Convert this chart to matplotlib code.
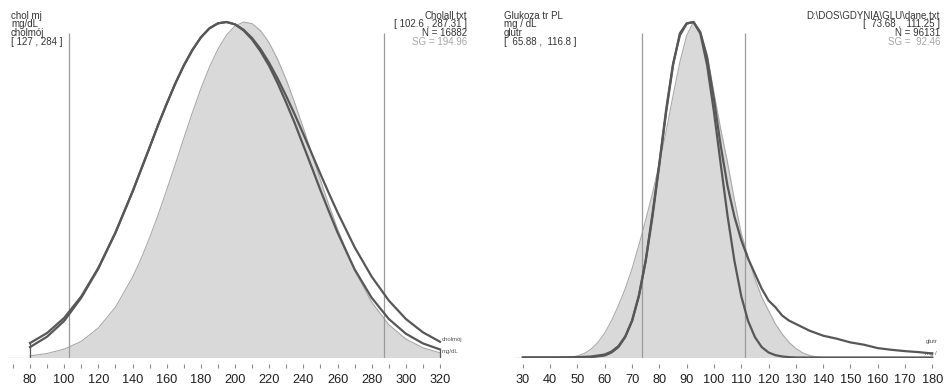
import matplotlib
matplotlib.use("Agg")
import matplotlib.pyplot as plt
from matplotlib.ticker import MultipleLocator

# ---------------- data (peak height = 100) ----------------
chol_x = [80, 90, 100, 110, 120, 130, 140, 145, 150, 155, 160, 165, 170, 175, 180, 185,
          190, 195, 200, 205, 210, 215, 220, 225, 230, 235, 240, 245, 250, 255, 260,
          270, 280, 290, 300, 310, 320]
chol_ref = [0.5, 1.2, 2.5, 4.8, 8.8, 15.0, 23.9, 29.4, 35.7, 42.5, 49.9, 57.5, 65.3, 72.9,
            80.1, 86.5, 91.9, 96.1, 98.8, 100.0, 99.5, 97.4, 93.8, 88.8, 82.8, 75.8, 68.4,
            60.7, 52.9, 45.4, 38.3, 26.0, 16.5, 9.8, 5.5, 2.9, 1.4]
chol_cholmoj = [4.3, 7.3, 11.8, 18.2, 26.7, 37.2, 49.4, 56.0, 62.6, 69.3, 75.6, 81.6, 87.0,
                91.6, 95.4, 98.1, 99.6, 100.0, 99.3, 97.7, 95.2, 91.9, 87.8, 83.1, 77.9,
                72.4, 66.6, 60.7, 54.7, 48.9, 43.3, 32.9, 24.1, 17.0, 11.5, 7.5, 4.7]
chol_mgdl = [3.1, 6.2, 10.9, 17.8, 26.5, 37.2, 49.4, 56.0, 62.6, 69.3, 75.6, 81.6, 87.0,
             91.6, 95.4, 98.1, 99.6, 100.0, 99.3, 97.5, 94.8, 91.2, 86.9, 81.7, 75.9,
             69.8, 63.2, 56.6, 49.9, 43.5, 37.3, 26.3, 17.8, 11.5, 7.1, 4.2, 2.4]
chol_ticks = [80, 100, 120, 140, 160, 180, 200, 220, 240, 260, 280, 300, 320]
chol_limits = [102.6, 287.31]

glu_ref_x = [47.5, 50, 52.5, 55, 57.5, 60, 62.5, 65, 67.5, 70, 72.5, 75, 77.5, 80, 82.5,
             85, 87.5, 90, 92.5, 95, 97.5, 100, 102.5, 105, 107.5, 110, 112.5, 115, 117.5,
             120, 122.5, 125, 127.5, 130, 132.5, 135, 137.5, 140]
glu_ref = [0.0, 0.5, 1.2, 2.5, 4.5, 7.3, 11.0, 15.5, 20.5, 26.5, 33.5, 41.0, 49.0, 58.0,
           67.5, 78.0, 88.0, 96.0, 100.0, 97.0, 90.0, 79.0, 68.0, 58.0, 47.0, 37.0, 30.0,
           23.5, 18.0, 14.0, 10.0, 7.0, 4.5, 2.7, 1.4, 0.6, 0.2, 0.0]

glu_x = [30, 40, 50, 55, 60, 62.5, 65, 67.5, 70, 72.5, 75, 77.5, 80, 82.5, 85, 87.5, 90,
         92.5, 95, 97.5, 100, 102.5, 105, 107.5, 110, 112.5, 115, 117.5, 120, 122.5, 125,
         127.5, 130, 135, 140, 145, 150, 155, 160, 165, 170, 175, 180]
glu_glutr = [0.0, 0.0, 0.1, 0.3, 0.9, 1.8, 3.4, 6.3, 11.0, 18.5, 29.0, 43.0, 58.0, 74.0, 87.5,
             96.0, 99.5, 100.0, 97.0, 89.5, 77.0, 63.0, 51.0, 42.0, 35.0, 29.5, 25.0, 20.5,
             17.0, 15.0, 12.5, 11.0, 10.0, 8.0, 6.5, 5.6, 4.5, 3.8, 2.8, 2.3, 1.9, 1.6, 1.2]
glu_mg = [0.0, 0.0, 0.0, 0.1, 0.6, 1.5, 3.1, 6.1, 10.9, 18.3, 28.8, 42.1, 57.5, 73.2, 87.1,
          96.6, 99.6, 100.0, 96.6, 87.1, 73.2, 57.5, 42.1, 28.8, 18.3, 10.9, 6.1, 3.1,
          1.5, 0.7, 0.3, 0.1, 0.0, 0.0, 0.0, 0.0, 0.0, 0.0, 0.0, 0.0, 0.0, 0.0, 0.0]
glu_ticks = [30, 40, 50, 60, 70, 80, 90, 100, 110, 120, 130, 140, 150, 160, 170, 180]
glu_limits = [73.68, 111.25]

chol_head_left = ["chol mj", "mg/dL", "cholmój", "[ 127 , 284 ]"]
chol_head_right = ["Cholall.txt", "[ 102.6 , 287.31 ]", "N = 16882", "SG = 194.96"]
glu_head_left = ["Glukoza tr PL", "mg / dL", "glutr", "[  65.88 ,  116.8 ]"]
glu_head_right = ["D:\\DOS\\GDYNIA\\GLU\\dane.txt", "[  73.68 ,  111.25 ]", "N = 96131", "SG =  92.46"]

# ---------------- styling ----------------
W, H = 946, 385
DARK = "#575757"
FILL = "#d9d9d9"
FILL_EDGE = "#a9a9a9"
VLINE = "#9a9a9a"
BASE = "#c4c4c4"
FONT = ["Liberation Sans", "DejaVu Sans"]

fig = plt.figure(figsize=(W / 100, H / 100), dpi=100)
fig.patch.set_facecolor("white")

ymax = 100 * 347.5 / 335.5
bottom = (H - 357.5) / H
height = 347.5 / H
vtop = 100 * (357.5 - 33) / 335.5


def make_ax(x0, x1, xlim):
    ax = fig.add_axes([x0 / W, bottom, (x1 - x0) / W, height])
    ax.set_xlim(*xlim)
    ax.set_ylim(0, ymax)
    for s in ["top", "right", "left"]:
        ax.spines[s].set_visible(False)
    ax.spines["bottom"].set_visible(False)
    ax.spines["bottom"].set_position(("outward", 4.5))
    ax.set_yticks([])
    ax.axhline(0, color=BASE, lw=1.0, zorder=1)
    ax.tick_params(axis="x", which="both", direction="out", color="#8c8c8c",
                   width=0.8, labelsize=9.2, labelcolor="#1e1e1e", pad=4.5)
    ax.tick_params(axis="x", which="major", length=3.2)
    ax.tick_params(axis="x", which="minor", length=3.2)
    ax.patch.set_alpha(0)
    return ax


# ---- left panel ----
axL = make_ax(8, 442, (80 - 22 / 1.7083, 320 + 2 / 1.7083))
axL.fill_between(chol_x, 0, chol_ref, color=FILL, lw=0, zorder=2)
axL.plot(chol_x, chol_ref, color=FILL_EDGE, lw=0.8, zorder=3)
for xv in chol_limits:
    axL.vlines(xv, 0, vtop, color=VLINE, lw=0.9, zorder=4)
axL.plot(chol_x, chol_cholmoj, color=DARK, lw=1.6, zorder=5, solid_joinstyle="round")
axL.plot(chol_x, chol_mgdl, color=DARK, lw=1.6, zorder=5, solid_joinstyle="round")
axL.vlines(chol_x[0], 0, max(chol_cholmoj[0], chol_mgdl[0]), color=DARK, lw=0.9, zorder=5)
axL.vlines(chol_x[-1], 0, min(chol_cholmoj[-1], chol_mgdl[-1]), color=DARK, lw=0.9, zorder=5)
axL.set_xticks(chol_ticks)
axL.set_xticklabels([str(t) for t in chol_ticks], fontfamily=FONT)
axL.xaxis.set_minor_locator(MultipleLocator(10))

# ---- right panel ----
axR = make_ax(515, 935, (30 - (522.9 - 515) / 2.729, 180 + (935 - 932.3) / 2.729))
axR.fill_between(glu_ref_x, 0, glu_ref, color=FILL, lw=0, zorder=2)
axR.plot(glu_ref_x, glu_ref, color=FILL_EDGE, lw=0.8, zorder=3)
for xv in glu_limits:
    axR.vlines(xv, 0, vtop, color=VLINE, lw=0.9, zorder=4)
axR.plot(glu_x, glu_glutr, color=DARK, lw=1.6, zorder=5, solid_joinstyle="round")
axR.plot(glu_x, glu_mg, color=DARK, lw=1.6, zorder=5, solid_joinstyle="round")
axR.set_xticks(glu_ticks)
axR.set_xticklabels([str(t) for t in glu_ticks], fontfamily=FONT)

# ---- header texts ----
line_y = [15.7, 24.4, 33.0, 41.7]
TXT = "#333333"
LIGHT = "#a6a6a6"


def header(x, lines, ha, colors):
    for yy, txt, c in zip(line_y, lines, colors):
        fig.text(x / W, 1 - yy / H, txt, ha=ha, va="center", fontsize=7,
                 color=c, family=FONT)


header(11, chol_head_left, "left", [TXT] * 4)
header(467, chol_head_right, "right", [TXT, TXT, TXT, LIGHT])
header(504, glu_head_left, "left", [TXT] * 4)
header(940, glu_head_right, "right", [TXT, TXT, TXT, LIGHT])

# ---- curve end labels ----
fig.text(442 / W, 1 - 339.5 / H, "cholmój", ha="left", va="center", fontsize=4.3,
         color="#555555", family=FONT)
fig.text(442 / W, 1 - 351.5 / H, "mg/dL", ha="left", va="center", fontsize=4.3,
         color="#555555", family=FONT)
fig.text(938 / W, 1 - 341 / H, "glutr", ha="right", va="center", fontsize=4.3,
         color="#555555", family=FONT)
fig.text(937 / W, 1 - 353 / H, "mg /", ha="right", va="center", fontsize=4.3,
         color="#555555", family=FONT)

fig.savefig("out.png", dpi=100, facecolor="white")
